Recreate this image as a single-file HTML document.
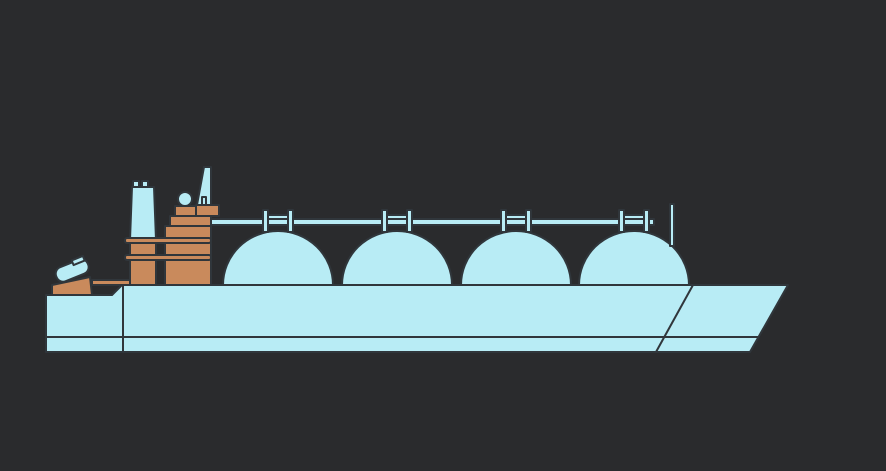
<!DOCTYPE html>
<html><head><style>html,body{margin:0;padding:0;background:#2a2b2d;}svg{display:block}</style></head><body>
<svg width="886" height="471" viewBox="0 0 886 471" xmlns="http://www.w3.org/2000/svg">
<rect width="886" height="471" fill="#2a2b2d"/>
<g stroke="#30363b" stroke-width="2" stroke-linejoin="round">
<!-- lifeboat -->
<polygon points="52,285 90,277 92,295 52,295" fill="#c98a5c"/>
<rect x="55" y="263" width="34" height="15" rx="7" fill="#b8ecf5" transform="rotate(-22 72 270)"/>
<rect x="72" y="258" width="12" height="5" fill="#b8ecf5" transform="rotate(-22 78 260)"/>
<rect x="92" y="280" width="40" height="5" fill="#c98a5c"/>
<!-- funnel -->
<rect x="133" y="181" width="6" height="7" fill="#b8ecf5"/>
<rect x="142" y="181" width="6" height="7" fill="#b8ecf5"/>
<polygon points="132,187 154,187 156,240 130,240" fill="#b8ecf5"/>
<rect x="130" y="240" width="26" height="45" fill="#c98a5c"/>
<!-- mast -->
<polygon points="197,205 204,167 211,167 211,205" fill="#b8ecf5"/>
<rect x="202" y="197" width="4" height="8" fill="#b8ecf5"/>
<circle cx="185" cy="199" r="7" fill="#b8ecf5"/>
<rect x="175" y="206" width="22" height="10" fill="#c98a5c"/>
<rect x="196" y="205" width="23" height="11" fill="#c98a5c"/>
<rect x="170" y="216" width="41" height="10" fill="#c98a5c"/>
<rect x="165" y="226" width="46" height="59" fill="#c98a5c"/>
<rect x="125" y="238" width="86" height="5" rx="2" fill="#c98a5c"/>
<rect x="125" y="255" width="86" height="5" rx="2" fill="#c98a5c"/>
<!-- pipe -->
<rect x="211" y="219" width="443" height="6" fill="#b8ecf5"/>
<!-- tanks -->
<g fill="#b8ecf5">
<path d="M223,285 A55,54 0 0 1 333,285 Z"/>
<path d="M342,285 A55,54 0 0 1 452,285 Z"/>
<path d="M461,285 A55,54 0 0 1 571,285 Z"/>
<path d="M579,285 A55,54 0 0 1 689,285 Z"/>
</g>
<g fill="#b8ecf5">
<rect x="263" y="210" width="5" height="22"/><rect x="288" y="210" width="5" height="22"/><rect x="268" y="215" width="20" height="4"/>
<rect x="382" y="210" width="5" height="22"/><rect x="407" y="210" width="5" height="22"/><rect x="387" y="215" width="20" height="4"/>
<rect x="501" y="210" width="5" height="22"/><rect x="526" y="210" width="5" height="22"/><rect x="506" y="215" width="20" height="4"/>
<rect x="619" y="210" width="5" height="22"/><rect x="644" y="210" width="5" height="22"/><rect x="624" y="215" width="20" height="4"/>
</g>
<rect x="670" y="204" width="4" height="42" fill="#b8ecf5"/>
<!-- hull -->
<polygon points="46,295 112,295 122,285 788,285 750,352 46,352" fill="#b8ecf5"/>
<line x1="46" y1="337" x2="758" y2="337"/>
<line x1="123" y1="285" x2="123" y2="352"/>
<line x1="693" y1="285" x2="656" y2="352"/>
</g>
</svg>
</body></html>
